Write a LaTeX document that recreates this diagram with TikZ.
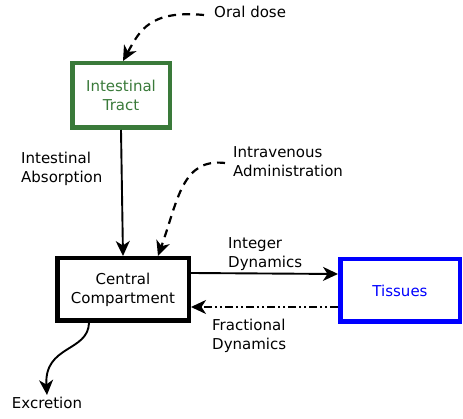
\documentclass[tikz,border=0pt]{standalone}
\usepackage{fontspec}
\setmainfont{DejaVu Sans}
\usepackage{tikz}
\usetikzlibrary{arrows.meta}
\definecolor{tractgreen}{HTML}{3A7A3A}
\definecolor{tissueblue}{HTML}{0000FF}

\begin{document}
\begin{tikzpicture}[x=1pt,y=-1pt,
  every node/.style={font=\fontsize{15}{19}\selectfont},
  comp/.style={draw,line width=4.5pt,minimum height=62.5pt,align=center,inner sep=0pt},
  lbl/.style={align=left,inner sep=0pt,anchor=west},
  arr/.style={-{Stealth[length=15pt,width=14pt,inset=4.5pt]},line width=1.9pt},
  dose/.style={arr,line width=2.2pt,dash pattern=on 8pt off 6pt},
  back/.style={arr,dash pattern=on 8pt off 3pt on 2pt off 3pt on 2pt off 3pt}
]
\useasboundingbox (0,0) rectangle (463,419);
\node[comp,draw=tractgreen,text=tractgreen,minimum width=97.5pt,minimum height=64.5pt] (tract) at (121,95.5) {Intestinal\\Tract};
\node[comp,minimum width=131.5pt] (central) at (123,289.5) {Central\\Compartment};
\node[comp,draw=tissueblue,text=tissueblue,minimum width=119.5pt] (tissues) at (400,290.5) {Tissues};
\node[lbl] (oral) at (214,12) {Oral dose};
\node[lbl] (iv) at (233,162) {Intravenous\\Administration};
\node[lbl] (absorb) at (21,169) {Intestinal\\Absorption};
\node[lbl] (integer) at (228,254) {Integer\\Dynamics};
\node[lbl] (fractional) at (212,336) {Fractional\\Dynamics};
\node[inner sep=2pt] (excretion) at (47,403) {Excretion};
\draw[dose] ([xshift=-10pt,yshift=-3pt]oral.west) .. controls (150,10) and (140,30) .. ([xshift=2pt]tract.north);
\draw[dose] ([xshift=-8pt,yshift=-1pt]iv.west) .. controls (182,158) and (178,200) .. ([xshift=35pt]central.north);
\draw[arr] (tract.south) -- (central.north);
\draw[arr] ([yshift=16.5pt]central.east) -- ([yshift=16.5pt]tissues.west);
\draw[back] ([yshift=-16.5pt]tissues.west) -- ([yshift=-17.5pt]central.east);
\draw[arr] ([xshift=-34pt]central.south) .. controls (88,352) and (44,345) .. (excretion.north);
\end{tikzpicture}
\end{document}
